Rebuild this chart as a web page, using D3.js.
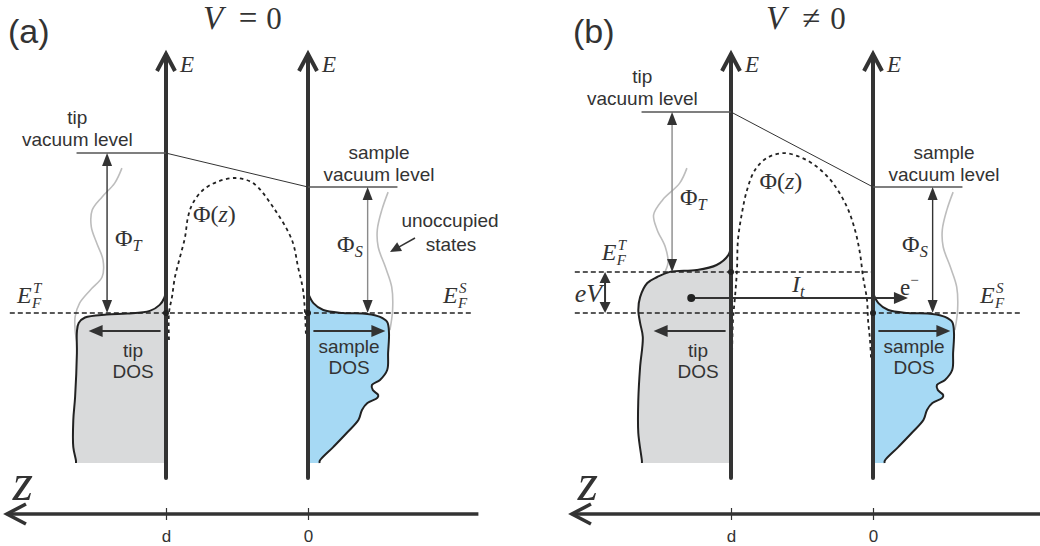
<!DOCTYPE html>
<html>
<head>
<meta charset="utf-8">
<script src="https://cdn.jsdelivr.net/npm/d3@7"></script>
<style>
  html, body { margin: 0; padding: 0; background: #fff; }
  svg { display: block; }
</style>
</head>
<body>
<svg id="fig" width="1040" height="546"></svg>
<script>
// ---- energies (sample Fermi level = 0) ----
const panelLabels = ["(a)", "(b)"];
const biasEV = [0, 1.37];        // tip Fermi level shift eV
const phiTip = 5.33;             // tip work function
const phiSample = 4.2;           // sample work function
const zTicks = [1, 0];
const zTickLabels = ["d", "0"];

// density of states profiles: [energy, density]
const tipDOS_a = [[0.8,0],[0.5,0.02],[0.27,0.07],[0.07,0.18],[-0.02,0.43],[-0.05,0.66],[-0.15,0.9],
  [-0.33,0.97],[-0.63,0.99],[-1.33,0.99],[-2.8,1.01],[-3.57,1.03],[-4.47,1.03],[-4.93,1.0],[-5,1.0]];
const tipDOS_b = [[2.23,0],[1.93,0.03],[1.6,0.16],[1.43,0.38],[1.37,0.68],[1.2,0.82],[1.0,0.93],
  [0.53,1.01],[0.1,1.03],[-0.33,1.01],[-0.8,0.98],[-1.8,1.01],[-2.9,1.03],[-4.0,1.03],[-4.93,0.99],[-5,0.99]];
const sampleDOS = [[0.67,0],[0.33,0.06],[0.1,0.17],[0.0,0.39],[-0.03,0.66],[-0.13,0.8],[-0.3,0.88],
  [-0.67,0.9],[-1.33,0.89],[-1.9,0.88],[-2.23,0.8],[-2.4,0.71],[-2.57,0.72],[-2.73,0.78],[-2.83,0.77],
  [-3.0,0.66],[-3.23,0.6],[-3.57,0.56],[-4.0,0.43],[-4.47,0.28],[-4.93,0.13],[-5,0.13]];

// unoccupied-state curves: [energy, density]
const tipWave_a = [[4.83,0.49],[4.33,0.57],[3.87,0.71],[3.43,0.82],[2.87,0.83],[2.33,0.77],[1.77,0.7],
  [1.2,0.71],[0.77,0.84],[0.33,0.96],[-0.13,1.01],[-0.57,1.01],[-1.13,0.98]];
const tipWave_b = [[4.83,0.49],[4.33,0.57],[3.77,0.76],[3.27,0.86],[2.77,0.82],[2.2,0.73],[1.67,0.7],
  [1.2,0.76],[0.87,0.82],[0.7,0.9]];
const sampleWave = [[4.03,0.89],[3.43,0.82],[2.77,0.77],[2.2,0.78],[1.53,0.86],[0.87,0.93],[0.1,0.94],[-0.57,0.91]];

// tunnel barrier Phi(z): [z, energy]
const barrier_a = [[0.979,-0.9],[0.979,0],[0.958,0.53],[0.937,1.2],[0.901,1.87],[0.866,2.53],[0.845,3.2],
  [0.81,3.67],[0.739,4.1],[0.641,4.37],[0.514,4.5],[0.387,4.33],[0.246,3.53],[0.113,2.43],[0.07,1.53],
  [0.035,0.77],[0.021,0],[0.014,-0.8]];
const barrier_b = [[0.993,-1.5],[0.986,-0.23],[0.972,0.53],[0.958,1.43],[0.951,2.43],[0.923,3.33],
  [0.887,4.1],[0.831,4.77],[0.746,5.17],[0.634,5.33],[0.514,5.2],[0.394,4.87],[0.282,4.33],[0.183,3.53],
  [0.127,2.77],[0.092,2.0],[0.07,1.2],[0.042,0.43],[0.035,-0.23],[0.021,-0.9],[0.014,-1.5]];

// tunnelling current: start / end position (z) and energy
const currentPath = [[1.28, 0.5], [-0.246, 0.5]];

const panels = [
  { label: panelLabels[0], bias: biasEV[0], tipDOS: tipDOS_a, tipWave: tipWave_a, barrier: barrier_a },
  { label: panelLabels[1], bias: biasEV[1], tipDOS: tipDOS_b, tipWave: tipWave_b, barrier: barrier_b }
];

const svg = d3.select("#fig");
const ink = "#333";
const serif = "'Liberation Serif', 'DejaVu Serif', serif";
const sans = "'Liberation Sans', Arial, sans-serif";

const yE = d3.scaleLinear().domain([-5, 8.6]).range([463, 55]);
const gx = d3.scaleLinear().domain([0, 1]).range([0, 90]);

function txt(g, x, y, s, o = {}) {
  return g.append("text").attr("x", x).attr("y", y).text(s)
    .attr("font-family", o.family || sans)
    .attr("font-size", o.size || 19)
    .attr("font-style", o.italic ? "italic" : "normal")
    .attr("text-anchor", o.anchor || "start")
    .attr("fill", o.fill || ink);
}

function head(g, x, y, ang, len = 12, hw = 5.5, fill = ink) {
  // filled triangular arrow head with its tip at (x, y), pointing along ang
  const c = Math.cos(ang), s = Math.sin(ang);
  const bx = x - c * len, by = y - s * len;
  g.append("path")
    .attr("d", `M${x},${y}L${bx - s * hw},${by + c * hw}L${bx + s * hw},${by - c * hw}Z`)
    .attr("fill", fill);
}

function arrow(g, x1, y1, x2, y2, o = {}) {
  const ang = Math.atan2(y2 - y1, x2 - x1);
  const len = o.len || 12;
  const c = Math.cos(ang), s = Math.sin(ang);
  const sx1 = o.both ? x1 + c * (len - 2) : x1, sy1 = o.both ? y1 + s * (len - 2) : y1;
  g.append("line").attr("x1", sx1).attr("y1", sy1)
    .attr("x2", x2 - c * (len - 2)).attr("y2", y2 - s * (len - 2))
    .attr("stroke", o.stroke || ink).attr("stroke-width", o.width || 1.5);
  head(g, x2, y2, ang, len, o.hw || 5.5, o.headFill || ink);
  if (o.both) head(g, x1, y1, ang + Math.PI, len, o.hw || 5.5, o.headFill || ink);
}

function mathSub(g, x, y, main, sub, o = {}) {
  // symbol with an italic subscript
  const size = o.size || 24;
  const t = g.append("text").attr("x", x).attr("y", y)
    .attr("font-family", serif).attr("font-size", size).attr("fill", ink);
  t.append("tspan").text(main).attr("font-style", o.mainItalic ? "italic" : "normal");
  t.append("tspan").text(sub).attr("font-style", "italic")
    .attr("font-size", size * 0.68).attr("dy", size * 0.22);
}

function fermiLabel(g, x, y, sup) {
  txt(g, x, y, "E", { family: serif, size: 24, italic: true });
  txt(g, x + 16, y - 10, sup, { family: serif, size: 15, italic: true });
  txt(g, x + 15, y + 5, "F", { family: serif, size: 15, italic: true });
}

panels.forEach((p, i) => {
  const off = i * 565;
  const zx = d3.scaleLinear().domain([0, 1]).range([308 + off, 166 + off]);
  const g = svg.append("g");
  const xTip = zx(1), xSam = zx(0);
  const eTip = p.bias;

  // unoccupied-state curves
  const waveLine = (base, sign) => d3.line()
    .x(d => base + sign * gx(d[1])).y(d => yE(d[0])).curve(d3.curveCatmullRom);
  g.append("path").attr("d", waveLine(xTip, -1)(p.tipWave))
    .attr("fill", "none").attr("stroke", "#bdbdbd").attr("stroke-width", 1.6);
  g.append("path").attr("d", waveLine(xSam, 1)(sampleWave))
    .attr("fill", "none").attr("stroke", "#bdbdbd").attr("stroke-width", 1.6);

  // density of states
  const dosArea = (base, sign) => d3.area()
    .y(d => yE(d[0])).x0(base).x1(d => base + sign * gx(d[1])).curve(d3.curveCatmullRom);
  g.append("path").attr("d", dosArea(xTip, -1)(p.tipDOS)).attr("fill", "#d9dadb");
  g.append("path").attr("d", dosArea(xSam, 1)(sampleDOS)).attr("fill", "#a6d9f4");
  g.append("path").attr("d", waveLine(xTip, -1)(p.tipDOS))
    .attr("fill", "none").attr("stroke", "#222").attr("stroke-width", 2);
  g.append("path").attr("d", waveLine(xSam, 1)(sampleDOS))
    .attr("fill", "none").attr("stroke", "#222").attr("stroke-width", 2);

  // Fermi levels
  const dashed = (z1, z2, e) => g.append("line")
    .attr("x1", zx(z1)).attr("x2", zx(z2)).attr("y1", yE(e)).attr("y2", yE(e))
    .attr("stroke", "#222").attr("stroke-width", 1.5).attr("stroke-dasharray", "5,3");
  if (eTip === 0) {
    dashed(2.1, -1.15, 0);
  } else {
    dashed(2.1, 0, eTip);
    dashed(2.1, -1.04, 0);
  }

  // barrier
  g.append("path")
    .attr("d", d3.line().x(d => zx(d[0])).y(d => yE(d[1])).curve(d3.curveCatmullRom)(p.barrier))
    .attr("fill", "none").attr("stroke", "#222").attr("stroke-width", 1.8)
    .attr("stroke-dasharray", "3.5,3.5");

  // energy axes
  [xTip, xSam].forEach(x => {
    g.append("line").attr("x1", x).attr("x2", x).attr("y1", yE(-5.5)).attr("y2", yE(8.6))
      .attr("stroke", ink).attr("stroke-width", 4).attr("stroke-linecap", "round");
    g.append("path").attr("d", `M${x - 9},${yE(8.6) + 16}L${x},${yE(8.6) - 1}L${x + 9},${yE(8.6) + 16}`)
      .attr("fill", "none").attr("stroke", ink).attr("stroke-width", 4)
      .attr("stroke-linejoin", "miter");
    txt(g, x + 14, 72, "E", { family: serif, size: 23, italic: true });
  });

  // z axis
  const zAxisY = 514;
  const zAxis = d3.axisBottom(zx).tickValues(zTicks).tickFormat((d, k) => zTickLabels[k]).tickSize(6);
  const ax = g.append("g").attr("transform", `translate(0,${zAxisY})`).call(zAxis);
  ax.select(".domain").remove();
  ax.selectAll(".tick line").attr("y1", -6).attr("y2", 6).attr("stroke", ink).attr("stroke-width", 1.2);
  ax.selectAll(".tick text").attr("y", 28).attr("dy", 0).attr("font-size", 17)
    .attr("font-family", sans).attr("fill", ink);
  g.append("line").attr("x1", zx(2.105)).attr("x2", zx(-1.2)).attr("y1", zAxisY).attr("y2", zAxisY)
    .attr("stroke", ink).attr("stroke-width", 3.6);
  g.append("path")
    .attr("d", `M${zx(2.12) + 19},${zAxisY - 10}L${zx(2.12)},${zAxisY}L${zx(2.12) + 19},${zAxisY + 10}`)
    .attr("fill", "none").attr("stroke", ink).attr("stroke-width", 3.6);
  txt(g, zx(2.08), 500, "z", { family: serif, size: 52, italic: true });

  // vacuum levels
  const vacT = yE(eTip + phiTip), vacS = yE(phiSample);
  g.append("line").attr("x1", zx(1.63)).attr("x2", xTip).attr("y1", vacT).attr("y2", vacT)
    .attr("stroke", "#555").attr("stroke-width", 1.5);
  g.append("line").attr("x1", xSam).attr("x2", zx(-0.63)).attr("y1", vacS).attr("y2", vacS)
    .attr("stroke", "#555").attr("stroke-width", 1.5);
  g.append("line").attr("x1", xTip).attr("x2", xSam).attr("y1", vacT).attr("y2", vacS)
    .attr("stroke", ink).attr("stroke-width", 1);

  // work function arrows
  const grey = "#8a8a8a";
  arrow(g, zx(1.415), vacT, zx(1.415), yE(eTip),
    { both: true, len: 13, hw: 5, width: 1.4, stroke: i === 0 ? ink : grey });
  arrow(g, zx(-0.42), vacS, zx(-0.42), yE(0),
    { both: true, len: 13, hw: 5, width: 1.4, stroke: i === 0 ? grey : ink });

  // DOS direction arrows
  arrow(g, xTip - gx(0.06), yE(-0.6), xTip - gx(0.86), yE(-0.6), { len: 14, hw: 6, width: 2 });
  arrow(g, xSam + gx(0.06), yE(-0.6), xSam + gx(0.86), yE(-0.6), { len: 14, hw: 6, width: 2 });

  // Fermi level markers on the axes
  g.append("circle").attr("cx", xTip).attr("cy", yE(eTip)).attr("r", 3).attr("fill", "#222");
  g.append("circle").attr("cx", xSam).attr("cy", yE(0)).attr("r", 3).attr("fill", "#222");

  // labels
  txt(g, 8 + off, 43, p.label, { size: 34 });
  txt(g, zx(1.624), vacT - 29, "tip", { anchor: "middle" });
  txt(g, zx(1.624), vacT - 7, "vacuum level", { anchor: "middle" });
  txt(g, zx(-0.5), vacS - 28, "sample", { anchor: "middle" });
  txt(g, zx(-0.5), vacS - 6, "vacuum level", { anchor: "middle" });
  txt(g, xTip - 33, 357, "tip", { anchor: "middle" });
  txt(g, xTip - 33, 378, "DOS", { anchor: "middle" });
  txt(g, xSam + 41, 353, "sample", { anchor: "middle" });
  txt(g, xSam + 41, 374, "DOS", { anchor: "middle" });

  fermiLabel(g, i === 0 ? zx(2.05) : zx(1.91), yE(eTip) - (i === 0 ? 10 : 12), "T");
  fermiLabel(g, i === 0 ? zx(-0.95) : zx(-0.754), 303, "S");

  mathSub(g, zx(1.36), yE(eTip + phiTip * 0.42), "Φ", "T");
  mathSub(g, zx(-0.205), 252, "Φ", "S");

  const pz = g.append("text").attr("font-family", serif).attr("font-size", 24).attr("fill", ink);
  if (i === 0) pz.attr("x", zx(0.81)).attr("y", 222);
  else pz.attr("x", zx(0.8)).attr("y", 189);
  pz.append("tspan").text("Φ(");
  pz.append("tspan").text("z").attr("font-style", "italic");
  pz.append("tspan").text(")");

  if (i === 0) {
    txt(g, 450, 227, "unoccupied", { anchor: "middle" });
    txt(g, 451, 251, "states", { anchor: "middle" });
    arrow(g, 415, 238, 390, 252, { len: 11, hw: 5, width: 1.5 });
  } else {
    // bias and tunnelling current
    arrow(g, zx(1.887), yE(eTip), zx(1.887), yE(0), { both: true, len: 11, hw: 5.5, width: 2 });
    txt(g, zx(2.1), 302, "eV", { family: serif, size: 26, italic: true });
    const [c0, c1] = currentPath;
    arrow(g, zx(c0[0]), yE(c0[1]), zx(c1[0]), yE(c1[1]), { len: 14, hw: 6, width: 1.8 });
    g.append("circle").attr("cx", zx(c0[0])).attr("cy", yE(c0[1])).attr("r", 4).attr("fill", "#222");
    mathSub(g, zx(0.57), 292, "I", "t", { mainItalic: true });
    const em = g.append("text").attr("x", zx(-0.19)).attr("y", 295)
      .attr("font-family", serif).attr("font-size", 23).attr("fill", ink);
    em.append("tspan").text("e");
    em.append("tspan").text("−").attr("font-size", 15).attr("dy", -10);
  }
});

// panel titles
const t1 = svg.append("g");
txt(t1, 203, 29, "V", { family: serif, size: 33, italic: true });
txt(t1, 248, 29, "=", { family: serif, size: 33, anchor: "middle" });
txt(t1, 274, 29, "0", { family: serif, size: 31, anchor: "middle" });
txt(t1, 766, 29, "V", { family: serif, size: 33, italic: true });
txt(t1, 811, 29, "≠", { family: serif, size: 33, anchor: "middle" });
txt(t1, 838, 29, "0", { family: serif, size: 31, anchor: "middle" });
</script>
</body>
</html>
